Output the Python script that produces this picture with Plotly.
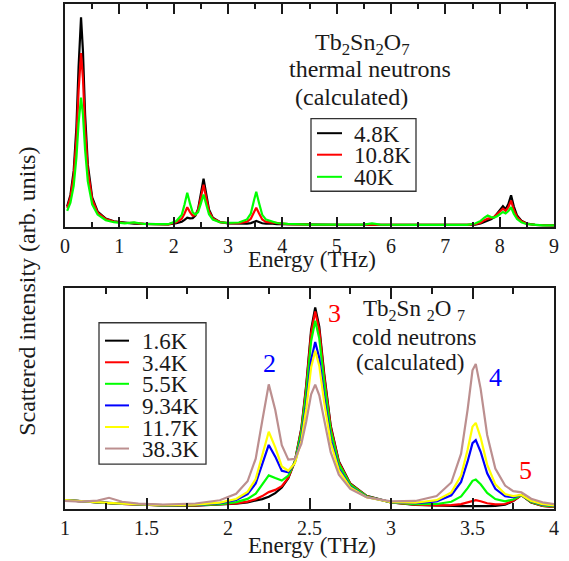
import plotly.graph_objects as go

# ---------------- data ----------------
top_energy = [0.04, 0.10, 0.16, 0.21, 0.25, 0.295, 0.33, 0.37, 0.42, 0.50, 0.60, 0.75, 0.90, 1.10, 1.27, 1.45, 1.70, 1.90,
              2.05, 2.15, 2.20, 2.25, 2.30, 2.35, 2.40, 2.45, 2.50, 2.55, 2.60, 2.65, 2.72, 2.85, 3.00, 3.20, 3.35, 3.42,
              3.48, 3.52, 3.57, 3.63, 3.70, 3.78, 3.90, 4.10,
              4.50, 5.00, 5.50, 5.65, 5.80, 6.50, 7.00,
              7.40, 7.55, 7.65, 7.72, 7.78, 7.84, 7.90, 7.96, 8.02, 8.06, 8.11, 8.16, 8.21, 8.26, 8.32, 8.40, 8.50, 8.65, 8.80, 9.00]

top_4p8K = [9.3, 14.4, 25.2, 44.7, 71.7, 94.0, 79.1, 50.5, 28.0, 13.3, 7.0, 3.8, 2.6, 1.9, 1.6, 1.45, 1.3, 1.25,
            1.78, 2.39, 3.21, 4.2, 3.9, 4.0, 5.16, 8.1, 14.82, 21.69, 14.76, 7.96, 4.21, 2.29, 1.71, 1.49, 1.56, 1.8,
            2.37, 2.75, 2.28, 1.73, 1.57, 1.67, 1.37, 1.27,
            1.1, 1.05, 1.0, 1.1, 1.0, 1.0, 1.0,
            1.0, 1.15, 1.6, 2.3, 2.9, 3.5, 4.5, 6.3, 8.5, 9.4, 8.0, 10.3, 14.3, 9.3, 5.2, 2.9, 1.6, 1.0, 0.85, 0.8]

top_10p8K = [8.7, 13.3, 22.9, 39.5, 61.1, 78.0, 66.8, 44.3, 25.4, 12.3, 6.5, 3.6, 2.5, 1.85, 1.9, 1.45, 1.3, 1.25,
             2.19, 3.74, 6.14, 8.9, 6.74, 5.13, 5.4, 7.61, 13.22, 19.01, 13.02, 7.13, 3.93, 2.26, 1.79, 1.76, 2.41, 3.72,
             6.8, 8.64, 6.18, 3.44, 2.37, 2.16, 1.57, 1.35,
             1.1, 1.05, 1.0, 1.3, 1.0, 1.0, 1.0,
             1.0, 1.3, 2.0, 3.1, 3.8, 4.0, 4.7, 6.0, 7.6, 8.3, 7.3, 8.9, 11.9, 7.8, 4.5, 2.6, 1.5, 1.0, 0.85, 0.8]

top_40K = [7.3, 11.0, 18.5, 31.1, 46.6, 58.0, 50.5, 34.6, 20.5, 10.2, 5.6, 3.1, 2.2, 1.7, 2.1, 1.4, 1.3, 1.3,
           2.74, 5.59, 10.17, 15.36, 10.61, 6.61, 5.62, 6.7, 10.52, 14.61, 10.12, 5.76, 3.42, 2.18, 1.86, 2.07, 3.44, 6.06,
           12.2, 15.85, 10.96, 5.51, 3.37, 2.83, 1.83, 1.46,
           1.15, 1.1, 1.1, 1.7, 1.1, 1.0, 1.0,
           1.0, 1.6, 2.8, 4.3, 5.2, 4.5, 4.3, 5.0, 6.2, 6.8, 6.1, 7.2, 8.9, 6.0, 3.6, 2.2, 1.3, 0.9, 0.8, 0.75]

top_labels = ["4.8K", "10.8K", "40K"]
top_colors = ["#000000", "#ff0000", "#00ff00"]

bot_energy = [1.00, 1.10, 1.20, 1.27, 1.35, 1.45, 1.60, 1.80, 1.95, 2.05, 2.12, 2.17, 2.21, 2.25, 2.29, 2.33, 2.37,
              2.41, 2.45, 2.48, 2.51, 2.535, 2.56, 2.59, 2.63, 2.68, 2.75, 2.85, 3.00, 3.15, 3.28, 3.37, 3.43, 3.47,
              3.50, 3.52, 3.55, 3.59, 3.64, 3.70, 3.75, 3.80, 3.86, 3.93, 4.00]

bot_1p6K = [4.0, 3.4, 2.94, 2.66, 2.35, 2.0, 1.58, 1.57, 1.91, 2.4, 3.03, 3.7, 4.47, 5.55, 7.18, 9.7, 13.93,
            21.55, 36.49, 56.16, 81.1, 91.15, 82.5, 61.38, 37.75, 21.55, 11.57, 5.97, 2.97, 1.89, 1.45, 1.29, 1.27, 1.32,
            1.4, 1.4, 1.38, 1.32, 1.4, 1.94, 3.57, 6.31, 2.96, 1.34, 0.91]
bot_3p4K = [4.0, 3.41, 2.94, 2.67, 2.35, 2.01, 1.59, 1.6, 1.98, 2.54, 3.36, 4.4, 5.85, 7.65, 8.65, 10.35, 14.12,
            21.41, 35.94, 55.16, 79.55, 89.36, 80.88, 60.18, 37.05, 21.17, 11.41, 5.9, 2.96, 1.95, 1.62, 1.72, 2.22, 3.07,
            3.85, 3.97, 3.49, 2.6, 2.07, 2.27, 3.73, 6.32, 3.0, 1.39, 0.96]
bot_5p5K = [4.0, 3.42, 2.96, 2.69, 2.38, 2.05, 1.64, 1.7, 2.22, 3.1, 4.58, 6.94, 10.83, 15.21, 13.99, 12.87, 15.09,
            21.36, 34.8, 52.88, 75.9, 85.14, 77.06, 57.38, 35.4, 20.32, 11.02, 5.79, 3.03, 2.19, 2.26, 3.27, 5.67, 9.4,
            12.75, 13.3, 11.18, 7.26, 4.5, 3.47, 4.3, 6.33, 3.17, 1.62, 1.14]
bot_9p34K = [4.03, 3.45, 3.0, 2.73, 2.43, 2.1, 1.73, 1.89, 2.66, 4.08, 6.77, 11.53, 19.9, 28.96, 23.67, 17.3, 16.61,
             20.88, 32.01, 47.57, 67.56, 75.53, 68.34, 50.99, 31.63, 18.32, 10.12, 5.48, 3.11, 2.63, 3.46, 6.21, 12.25, 21.51,
             29.77, 31.13, 25.88, 16.16, 9.12, 5.75, 5.35, 6.32, 3.51, 2.01, 1.47]
bot_11p7K = [4.04, 3.47, 3.01, 2.75, 2.45, 2.13, 1.77, 1.97, 2.85, 4.51, 7.71, 13.54, 23.84, 34.93, 27.87, 19.24, 17.29,
             20.7, 30.86, 45.36, 64.09, 71.54, 64.72, 48.34, 30.06, 17.49, 9.74, 5.36, 3.14, 2.83, 4.0, 7.51, 15.14, 26.82,
             37.24, 38.95, 32.32, 20.08, 11.16, 6.75, 5.82, 6.33, 3.63, 2.19, 1.62]
bot_38p3K = [3.61, 3.36, 3.82, 5.07, 3.29, 2.46, 2.02, 2.49, 3.96, 6.87, 12.54, 22.78, 39.77, 56.35, 44.79, 28.84, 22.3,
             22.63, 29.39, 39.57, 51.86, 56.28, 51.38, 39.59, 25.67, 15.56, 9.07, 5.3, 3.48, 3.64, 5.89, 11.99, 25.04, 44.96,
             62.7, 65.62, 54.35, 33.48, 18.28, 10.58, 8.05, 7.56, 4.65, 2.98, 2.22]

bot_labels = ["1.6K", "3.4K", "5.5K", "9.34K", "11.7K", "38.3K"]
bot_colors = ["#000000", "#ff0000", "#00ff00", "#0000ff", "#ffff00", "#bc8f8f"]

top_ticks = [0, 1, 2, 3, 4, 5, 6, 7, 8, 9]
top_minor_ticks = [0.5, 1.5, 2.5, 3.5, 4.5, 5.5, 6.5, 7.5, 8.5]
bot_ticks = [1, 1.5, 2, 2.5, 3, 3.5, 4]
bot_minor_ticks = [1.25, 1.75, 2.25, 2.75, 3.25, 3.75]

# ---------------- figure ----------------
W, H = 569, 561
ML, MR, MT, MB = 65, 15, 2, 52
PW, PH = W - ML - MR, H - MT - MB


def fx(px):
    return (px - ML) / PW


def fy(py):
    return (H - MB - py) / PH


FONT = "Liberation Serif, Times New Roman, Times, serif"
INK = "#1a1a1a"

fig = go.Figure()
for lab, ys, col in zip(top_labels, [top_4p8K, top_10p8K, top_40K], top_colors):
    fig.add_trace(go.Scatter(x=top_energy, y=ys, mode="lines", name=lab, showlegend=False,
                             line=dict(color=col, width=2.2), xaxis="x", yaxis="y"))
for lab, ys, col in zip(bot_labels, [bot_1p6K, bot_3p4K, bot_5p5K, bot_9p34K, bot_11p7K, bot_38p3K], bot_colors):
    fig.add_trace(go.Scatter(x=bot_energy, y=ys, mode="lines", name=lab, showlegend=False,
                             line=dict(color=col, width=2.2), xaxis="x2", yaxis="y2"))
# empty traces so that the overlay (minor-tick) axes are instantiated
fig.add_trace(go.Scatter(x=[], y=[], mode="lines", showlegend=False, xaxis="x3", yaxis="y", hoverinfo="skip"))
fig.add_trace(go.Scatter(x=[], y=[], mode="lines", showlegend=False, xaxis="x4", yaxis="y2", hoverinfo="skip"))


def xax(rng, ticks, tlen, anchor):
    return dict(range=rng, tickvals=ticks,
                showline=True, linecolor=INK, linewidth=1.6, mirror="allticks",
                ticks="inside", ticklen=tlen, tickwidth=1.5, tickcolor=INK,
                showgrid=False, zeroline=False, anchor=anchor, layer="above traces",
                tickfont=dict(family=FONT, size=20, color=INK))


def xminor(rng, ticks, tlen, anchor, over):
    return dict(range=rng, tickvals=ticks, overlaying=over, anchor=anchor, side="bottom",
                showline=False, mirror="allticks", ticks="inside", ticklen=tlen, tickwidth=1.5,
                tickcolor=INK, showticklabels=False, showgrid=False, zeroline=False, layer="above traces")


def yax(domain, anchor):
    return dict(domain=domain, range=[0, 100], showline=True, linecolor=INK, linewidth=1.6,
                mirror=True, ticks="", showticklabels=False, showgrid=False, zeroline=False, anchor=anchor)


annotations = []


def txt(s, px, py, size=23, color=INK, xanchor="center", angle=0):
    annotations.append(dict(text=s, x=fx(px), y=fy(py), xref="paper", yref="paper",
                            xanchor=xanchor, yanchor="middle", showarrow=False, textangle=angle,
                            font=dict(family=FONT, size=size, color=color)))


txt("Tb<sub>2</sub>Sn<sub>2</sub>O<sub>7</sub>", 362, 42, size=24)
txt("thermal neutrons", 370, 67, size=24)
txt("(calculated)", 351, 95, size=24)
txt("Energy (THz)", 312, 259)
txt("Tb<sub>2</sub>Sn <sub>2</sub>O <sub>7</sub>", 414, 309)
txt("cold neutrons", 414, 337)
txt("(calculated)", 410, 362)
txt("Energy (THz)", 312, 546)
txt("Scattered intensity (arb. units)", 27, 291, size=24, angle=-90)
txt("2", 269, 363, size=26, color="#0000ff")
txt("3", 334, 313, size=26, color="#ff0000")
txt("4", 495, 377, size=26, color="#0000ff")
txt("5", 525, 470, size=26, color="#ff0000")

shapes = []


def legend_box(x0, x1, y0, y1, rows, labels, colors, lx0, lx1, tx):
    shapes.append(dict(type="rect", xref="paper", yref="paper", x0=fx(x0), x1=fx(x1), y0=fy(y1), y1=fy(y0),
                       line=dict(color="#333333", width=1.3), fillcolor="white", layer="above"))
    for ry, lab, col in zip(rows, labels, colors):
        shapes.append(dict(type="line", xref="paper", yref="paper", x0=fx(lx0), x1=fx(lx1), y0=fy(ry), y1=fy(ry),
                           line=dict(color=col, width=2)))
        txt(lab, tx, ry + 1, xanchor="left")


legend_box(311, 416, 117, 190, [131.7, 153.3, 175.5], top_labels, top_colors, 317, 342, 352)
legend_box(99, 206, 322, 464, [340, 361.7, 383.3, 405, 426.7, 448.3], bot_labels, bot_colors, 105, 129, 140)

fig.update_layout(
    width=W, height=H, margin=dict(l=ML, r=MR, t=MT, b=MB),
    paper_bgcolor="white", plot_bgcolor="white", showlegend=False,
    xaxis=xax([0, 9], top_ticks, 10, "y"),
    xaxis3=xminor([0, 9], top_minor_ticks, 5, "y", "x"),
    yaxis=yax([fy(226), 1.0], "x"),
    xaxis2=xax([1, 4], bot_ticks, 11, "y2"),
    xaxis4=xminor([1, 4], bot_minor_ticks, 6, "y2", "x2"),
    yaxis2=yax([0.0, fy(287)], "x2"),
    annotations=annotations, shapes=shapes,
)

fig.write_html("out.html")
